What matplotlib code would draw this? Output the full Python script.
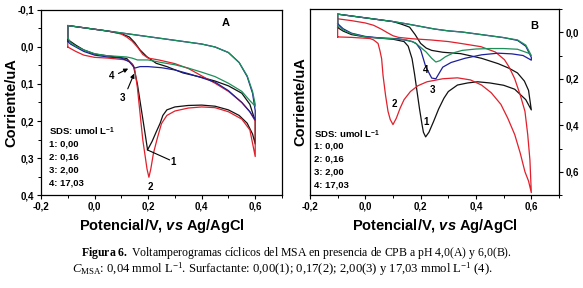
import matplotlib
matplotlib.use("Agg")
import matplotlib.pyplot as plt
from matplotlib.ticker import MultipleLocator, FuncFormatter

plt.rcParams['font.family'] = ['Liberation Sans', 'DejaVu Sans']
plt.rcParams['mathtext.fontset'] = 'custom'
plt.rcParams['mathtext.rm'] = 'Liberation Serif'
plt.rcParams['mathtext.it'] = 'Liberation Serif:italic'
plt.rcParams['mathtext.bf'] = 'Liberation Serif:bold'
plt.rcParams['mathtext.sf'] = 'Liberation Sans:italic:bold'
plt.rcParams['mathtext.tt'] = 'Liberation Sans:bold'

# ---------------- Panel A (pH 4,0) ----------------
a1_V = [-0.1, -0.1, -0.05, 0.0, 0.05, 0.1, 0.13, 0.15, 0.17, 0.195, 0.23, 0.27, 0.33, 0.4, 0.45, 0.5, 0.55,
        0.58, 0.6, 0.6, 0.59, 0.57, 0.54, 0.5, 0.45, 0.4, 0.35, 0.3, 0.27, 0.255, 0.245, 0.23, 0.215, 0.198,
        0.19, 0.175, 0.16, 0.145, 0.12, 0.05, 0.0, -0.04, -0.07, -0.1]
a1_I = [-0.02, -0.058, -0.053, -0.048, -0.043, -0.036, -0.027, -0.012, 0.008, 0.026, 0.044, 0.053, 0.07,
        0.082, 0.092, 0.105, 0.125, 0.155, 0.2, 0.262, 0.235, 0.206, 0.185, 0.17, 0.16, 0.157, 0.158, 0.162,
        0.17, 0.185, 0.206, 0.23, 0.255, 0.278, 0.24, 0.17, 0.1, 0.05, 0.031, 0.024, 0.019, 0.008, -0.005,
        -0.02]

a2_V = [-0.1, -0.1, -0.05, 0.0, 0.05, 0.1, 0.12, 0.14, 0.16, 0.18, 0.2, 0.24, 0.3, 0.35, 0.4, 0.45, 0.5,
        0.55, 0.58, 0.6, 0.6, 0.59, 0.58, 0.55, 0.5, 0.45, 0.4, 0.35, 0.3, 0.27, 0.25, 0.235, 0.22, 0.21,
        0.203, 0.196, 0.19, 0.18, 0.17, 0.16, 0.15, 0.14, 0.12, 0.05, 0.0, -0.04, -0.07, -0.1]
a2_I = [0.0, -0.058, -0.053, -0.048, -0.043, -0.035, -0.027, -0.016, 0.0, 0.02, 0.03, 0.035, 0.045, 0.058,
        0.078, 0.098, 0.12, 0.15, 0.175, 0.2, 0.296, 0.26, 0.224, 0.195, 0.175, 0.164, 0.162, 0.165, 0.173,
        0.185, 0.207, 0.245, 0.287, 0.33, 0.352, 0.33, 0.3, 0.25, 0.18, 0.11, 0.06, 0.045, 0.035, 0.03,
        0.028, 0.022, 0.012, 0.0]

a3_V = [-0.1, -0.1, -0.05, 0.0, 0.05, 0.1, 0.15, 0.2, 0.25, 0.3, 0.35, 0.4, 0.45, 0.5, 0.54, 0.57, 0.59,
        0.6, 0.6, 0.58, 0.55, 0.5, 0.45, 0.4, 0.35, 0.3, 0.25, 0.2, 0.17, 0.15, 0.13, 0.1, 0.05, 0.0, -0.04,
        -0.07, -0.09, -0.1]
a3_I = [-0.015, -0.058, -0.053, -0.048, -0.043, -0.038, -0.033, -0.028, -0.023, -0.018, -0.013, -0.008,
        0.0, 0.015, 0.042, 0.08, 0.125, 0.172, 0.197, 0.175, 0.15, 0.118, 0.095, 0.083, 0.072, 0.062, 0.056,
        0.053, 0.053, 0.057, 0.04, 0.03, 0.027, 0.022, 0.012, 0.0, -0.008, -0.015]

a4_V = [-0.1, -0.1, -0.05, 0.0, 0.05, 0.1, 0.15, 0.2, 0.25, 0.3, 0.35, 0.4, 0.45, 0.5, 0.54, 0.57, 0.59,
        0.6, 0.6, 0.58, 0.55, 0.5, 0.45, 0.4, 0.35, 0.3, 0.25, 0.2, 0.16, 0.14, 0.12, 0.08, 0.04, 0.0, -0.04,
        -0.07, -0.09, -0.1]
a4_I = [-0.025, -0.058, -0.053, -0.048, -0.043, -0.038, -0.033, -0.028, -0.023, -0.018, -0.013, -0.008,
        0.0, 0.015, 0.042, 0.078, 0.12, 0.155, 0.16, 0.145, 0.12, 0.098, 0.08, 0.068, 0.057, 0.048, 0.042,
        0.035, 0.035, 0.03, 0.027, 0.025, 0.023, 0.018, 0.008, -0.002, -0.012, -0.025]

# ---------------- Panel B (pH 6,0) ----------------
b1_V = [-0.1, -0.1, -0.05, 0.0, 0.05, 0.1, 0.13, 0.16, 0.18, 0.2, 0.22, 0.24, 0.28, 0.345, 0.42, 0.48,
        0.52, 0.55, 0.575, 0.59, 0.6, 0.58, 0.54, 0.5, 0.45, 0.406, 0.37, 0.333, 0.3, 0.284, 0.265, 0.247,
        0.23, 0.218, 0.21, 0.205, 0.196, 0.187, 0.178, 0.169, 0.155, 0.14, 0.1, 0.05, 0.0, -0.05, -0.08, -0.1]
b1_I = [-0.02, -0.078, -0.07, -0.062, -0.054, -0.046, -0.035, -0.022, 0.01, 0.048, 0.068, 0.078, 0.086,
        0.092, 0.112, 0.135, 0.155, 0.175, 0.21, 0.25, 0.334, 0.29, 0.245, 0.228, 0.218, 0.213, 0.218, 0.227,
        0.255, 0.284, 0.33, 0.383, 0.43, 0.45, 0.43, 0.397, 0.33, 0.255, 0.18, 0.114, 0.06, 0.04, 0.03, 0.025,
        0.02, 0.01, -0.005, -0.02]

b2_V = [-0.1, -0.1, -0.05, 0.0, 0.03, 0.06, 0.08, 0.1, 0.12, 0.17, 0.236, 0.3, 0.345, 0.418, 0.47, 0.503,
        0.52, 0.54, 0.56, 0.577, 0.587, 0.595, 0.6, 0.59, 0.577, 0.56, 0.54, 0.515, 0.49, 0.455, 0.42, 0.38,
        0.333, 0.28, 0.223, 0.19, 0.163, 0.14, 0.126, 0.112, 0.1, 0.09, 0.082, 0.073, 0.064, 0.059, 0.053,
        0.046, 0.03, 0.017, -0.05, -0.1]
b2_I = [0.02, -0.058, -0.05, -0.04, -0.03, -0.012, 0.002, 0.015, 0.022, 0.028, 0.033, 0.04, 0.048, 0.062,
        0.085, 0.118, 0.15, 0.2, 0.27, 0.34, 0.44, 0.55, 0.69, 0.64, 0.6, 0.52, 0.44, 0.37, 0.31, 0.26, 0.227,
        0.205, 0.196, 0.2, 0.213, 0.23, 0.255, 0.29, 0.326, 0.37, 0.397, 0.375, 0.34, 0.27, 0.185, 0.114,
        0.08, 0.048, 0.033, 0.027, 0.022, 0.02]

b3_V = [-0.1, -0.1, -0.05, 0.0, 0.05, 0.1, 0.15, 0.2, 0.25, 0.3, 0.35, 0.4, 0.45, 0.5, 0.55, 0.58, 0.6,
        0.6, 0.57, 0.53, 0.48, 0.42, 0.36, 0.31, 0.28, 0.265, 0.255, 0.24, 0.228, 0.218, 0.2, 0.185, 0.17,
        0.12, 0.05, 0.0, -0.05, -0.08, -0.1]
b3_I = [-0.037, -0.078, -0.07, -0.062, -0.054, -0.046, -0.036, -0.025, -0.014, -0.006, -0.001, 0.007,
        0.015, 0.023, 0.035, 0.06, 0.108, 0.12, 0.1, 0.093, 0.09, 0.097, 0.112, 0.13, 0.15, 0.18, 0.2, 0.197,
        0.17, 0.147, 0.075, 0.05, 0.04, 0.028, 0.024, 0.018, 0.004, -0.015, -0.037]

b4_V = [-0.1, -0.1, -0.05, 0.0, 0.05, 0.1, 0.15, 0.2, 0.25, 0.3, 0.35, 0.4, 0.45, 0.5, 0.55, 0.58, 0.6,
        0.59, 0.55, 0.5, 0.45, 0.4, 0.35, 0.32, 0.29, 0.27, 0.255, 0.24, 0.22, 0.2, 0.18, 0.15, 0.1, 0.05, 0.0,
        -0.05, -0.08, -0.1]
b4_I = [-0.03, -0.078, -0.07, -0.062, -0.054, -0.046, -0.036, -0.025, -0.014, -0.006, -0.001, 0.007, 0.015,
        0.023, 0.033, 0.055, 0.1, 0.09, 0.073, 0.07, 0.07, 0.072, 0.078, 0.088, 0.105, 0.122, 0.128, 0.112,
        0.085, 0.065, 0.045, 0.033, 0.028, 0.025, 0.02, 0.006, -0.01, -0.03]

legend_title = "SDS: umol L"
legend_rows = ["1: 0,00", "2: 0,16", "3: 2,00", "4: 17,03"]
colors = ["#111111", "#e0202c", "#1c1f9a", "#1f8f5a"]

fig = plt.figure(figsize=(5.83, 2.88), dpi=100)
axA = fig.add_axes([0.0703, 0.3229, 0.4134, 0.6424])
axB = fig.add_axes([0.5317, 0.3229, 0.4271, 0.6458])

fmt = FuncFormatter(lambda v, p: ("%.1f" % (0.0 if abs(v) < 1e-9 else v)).replace('.', ','))

def style(ax):
    for s in ax.spines.values():
        s.set_linewidth(0.9)
    ax.xaxis.set_major_locator(MultipleLocator(0.2))
    ax.xaxis.set_minor_locator(MultipleLocator(0.1))
    ax.xaxis.set_major_formatter(fmt)
    ax.yaxis.set_major_formatter(fmt)
    ax.tick_params(which='major', direction='out', length=3, width=0.8, labelsize=7, pad=2)
    ax.tick_params(which='minor', direction='out', length=2, width=0.7)
    for lab in ax.get_xticklabels() + ax.get_yticklabels():
        lab.set_fontweight('bold')

lw = 0.9
for V, I, c in zip([a1_V, a2_V, a3_V, a4_V], [a1_I, a2_I, a3_I, a4_I], colors):
    axA.plot(V, I, color=c, lw=lw)
for V, I, c in zip([b1_V, b2_V, b3_V, b4_V], [b1_I, b2_I, b3_I, b4_I], colors):
    axB.plot(V, I, color=c, lw=lw)

axA.set_xlim(-0.2, 0.7)
axA.set_ylim(0.4, -0.1)
axA.yaxis.set_major_locator(MultipleLocator(0.1))
axA.yaxis.set_minor_locator(MultipleLocator(0.05))
style(axA)

axB.set_xlim(-0.2, 0.7)
axB.set_ylim(0.7, -0.1)
axB.yaxis.set_major_locator(MultipleLocator(0.2))
axB.yaxis.set_minor_locator(MultipleLocator(0.1))
axB.yaxis.tick_right()
style(axB)

lab_kw = dict(fontsize=10.5, fontweight='bold')
for ax in (axA, axB):
    ax.set_xlabel(r"Potencial/V, $\mathsf{vs}$ Ag/AgCl", fontsize=10.5, fontweight='bold', va='center')
    ax.xaxis.set_label_coords(0.5, (195 - 226) / 186.0)
axA.set_ylabel("Corriente/uA", va='center', **lab_kw)
axA.yaxis.set_label_coords((11 - 41) / 241.0, 0.5)
axB.yaxis.set_label_position('left')
axB.set_ylabel("Corriente/uA", va='center', **lab_kw)
axB.yaxis.set_label_coords((300 - 310) / 249.0, 0.5)

tk = dict(fontsize=7, fontweight='bold', ha='center', va='center')
# Panel A annotations
axA.text(0.49, -0.064, "A", fontsize=8, fontweight='bold', ha='center', va='center')
axA.text(0.065, 0.078, "4", **tk)
axA.annotate("", xy=(0.135, 0.055), xytext=(0.08, 0.075),
             arrowprops=dict(arrowstyle='-|>', color='black', lw=0.8, mutation_scale=6))
axA.text(0.103, 0.138, "3", **tk)
axA.annotate("", xy=(0.152, 0.065), xytext=(0.12, 0.12),
             arrowprops=dict(arrowstyle='-|>', color='black', lw=0.8, mutation_scale=6))
axA.plot([0.197, 0.28], [0.278, 0.305], color='black', lw=0.8)
axA.text(0.295, 0.31, "1", **tk)
axA.text(0.207, 0.378, "2", **tk)

ylA = [0.23, 0.263, 0.297, 0.332, 0.368]
axA.text(-0.17, ylA[0], legend_title + r"$^{\mathtt{-1}}$", fontsize=6.8, fontweight='bold', ha='left', va='center')
for y, t in zip(ylA[1:], legend_rows):
    axA.text(-0.17, y, t, fontsize=6.8, fontweight='bold', ha='left', va='center')

# Panel B annotations
axB.text(0.612, -0.028, "B", fontsize=8, fontweight='bold', ha='center', va='center')
axB.text(0.218, 0.163, "4", **tk)
axB.text(0.242, 0.248, "3", **tk)
axB.text(0.105, 0.31, "2", **tk)
axB.text(0.218, 0.386, "1", **tk)
ylB = [0.44, 0.49, 0.547, 0.60, 0.657]
axB.text(-0.185, ylB[0], legend_title + r"$^{\mathtt{-1}}$", fontsize=6.8, fontweight='bold', ha='left', va='center')
for y, t in zip(ylB[1:], legend_rows):
    axB.text(-0.185, y, t, fontsize=6.8, fontweight='bold', ha='left', va='center')

# Caption
fig.text(296 / 583, 1 - 253 / 288,
         r"$\mathbf{Figura\ 6.}$ Voltamperogramas cíclicos del MSA en presencia de CPB a pH 4,0(A) y 6,0(B).",
         family='Liberation Serif', fontsize=8.5, ha='center', va='center')
fig.text(282 / 583, 1 - 269 / 288,
         r"$C_{\mathrm{MSA}}$: 0,04 mmol L$^{-1}$. Surfactante: 0,00(1); 0,17(2); 2,00(3) y 17,03 mmol L$^{-1}$ (4).",
         family='Liberation Serif', fontsize=9.1, ha='center', va='center')

fig.savefig("out.png", dpi=100)
